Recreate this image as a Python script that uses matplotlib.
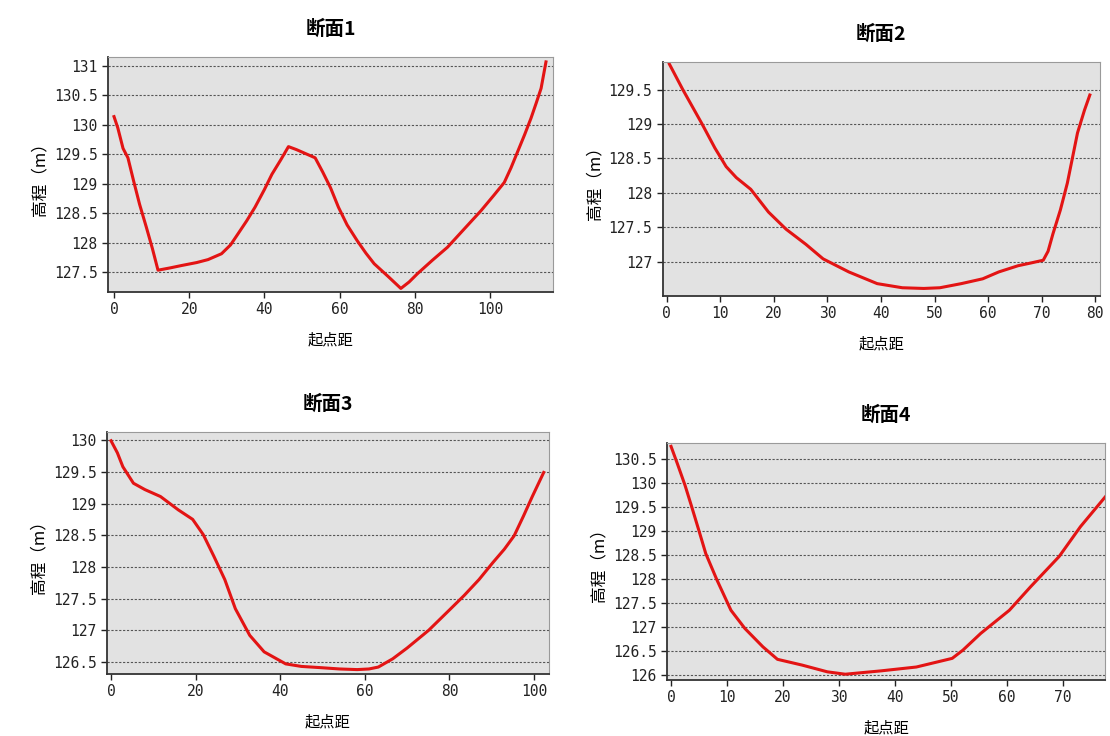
import matplotlib.pyplot as plt
from matplotlib.ticker import MultipleLocator

plt.rcParams['font.family'] = ['Noto Sans CJK SC', 'DejaVu Sans']

# 断面1
x1 = [0, 1, 2.4, 3.7, 5.2, 6.8, 8.6, 10.2, 11.7, 15, 18, 22, 25, 28.6, 31, 33, 35.3, 37.5,
      40, 42, 44.3, 46.4, 48.5, 51, 53.5, 55.5, 57.6, 59.7, 62, 64.7, 67, 69.2, 72.8, 76.3,
      78.5, 80.7, 84.7, 88.7, 93, 97.6, 101, 103.8, 105.6, 107.4, 109.2, 110.9, 112.3,
      113.6, 114.9]
y1 = [130.14, 129.95, 129.6, 129.44, 129.05, 128.65, 128.26, 127.9, 127.53, 127.57, 127.61,
      127.66, 127.71, 127.81, 127.96, 128.15, 128.37, 128.6, 128.9, 129.16, 129.4, 129.63,
      129.58, 129.51, 129.44, 129.2, 128.93, 128.6, 128.3, 128.03, 127.82, 127.64, 127.43,
      127.22, 127.33, 127.47, 127.7, 127.92, 128.22, 128.54, 128.8, 129.02, 129.27, 129.55,
      129.83, 130.11, 130.37, 130.62, 131.07]

# 断面2
x2 = [0.5, 3, 6.6, 9, 11.1, 13, 15.7, 19, 22.3, 26, 29.2, 34, 39.3, 44, 48, 51, 55, 59,
      62, 65.6, 68, 70.3, 71.2, 72.1, 73.5, 74.8, 76.7, 78, 79]
y2 = [129.87, 129.5, 129.0, 128.65, 128.38, 128.22, 128.05, 127.72, 127.47, 127.25, 127.04,
      126.85, 126.68, 126.62, 126.61, 126.62, 126.68, 126.75, 126.85, 126.94, 126.98, 127.02,
      127.15, 127.4, 127.75, 128.14, 128.87, 129.2, 129.42]

# 断面3
x3 = [0, 1.5, 2.8, 5.3, 8, 11.7, 15.9, 19.3, 21.8, 24.3, 26.9, 29.4, 32.8, 36.2, 41.3, 45,
      49.7, 54, 58.2, 61, 63.2, 66.6, 70, 75.1, 80, 83.5, 87, 90.3, 93, 95.3, 97.5, 99.6, 102.3]
y3 = [129.99, 129.8, 129.58, 129.32, 129.22, 129.11, 128.9, 128.75, 128.51, 128.17, 127.8,
      127.34, 126.92, 126.66, 126.47, 126.43, 126.41, 126.39, 126.38, 126.39, 126.42, 126.55,
      126.72, 127.0, 127.32, 127.55, 127.8, 128.07, 128.28, 128.49, 128.8, 129.11, 129.49]

# 断面4
x4 = [0, 1.1, 2.5, 3.7, 5, 6.2, 8.2, 10.7, 13.2, 16.4, 19, 23.4, 27.9, 31.1, 37.5, 43.8,
      50.2, 52.1, 55.3, 60.4, 64.2, 69.3, 73.1, 77.6]
y4 = [130.76, 130.41, 129.95, 129.5, 129.0, 128.53, 127.98, 127.35, 126.97, 126.59, 126.33,
      126.21, 126.07, 126.02, 126.09, 126.17, 126.35, 126.52, 126.87, 127.35, 127.84, 128.47,
      129.09, 129.72]

titles = ['断面1', '断面2', '断面3', '断面4']
xs = [x1, x2, x3, x4]
ys = [y1, y2, y3, y4]
xlims = [(-1.6, 116.8), (-0.75, 80.9), (-0.95, 103.5), (-0.7, 77.5)]
ylims = [(127.16, 131.15), (126.5, 129.9), (126.31, 130.13), (125.9, 130.83)]
xsteps = [20, 10, 20, 10]
ybottoms = [127.5, 127, 126.5, 126]

positions = [
    [0.0973, 0.6033, 0.401, 0.319],
    [0.597, 0.5978, 0.394, 0.318],
    [0.0964, 0.0842, 0.398, 0.329],
    [0.601, 0.0761, 0.3946, 0.322],
]

fig = plt.figure(figsize=(11.1, 7.36), dpi=100)

for i in range(4):
    ax = fig.add_axes(positions[i])
    ax.set_facecolor('#e2e2e2')
    ax.plot(xs[i], ys[i], color='#e31414', linewidth=2.2)
    ax.set_xlim(*xlims[i])
    ax.set_ylim(*ylims[i])
    ax.xaxis.set_major_locator(MultipleLocator(xsteps[i]))
    yt = []
    v = ybottoms[i]
    while v <= ylims[i][1]:
        yt.append(v)
        v += 0.5
    ax.set_yticks(yt)
    ax.set_yticklabels([('%g' % t) for t in yt])
    ax.grid(axis='y', color='#555555', linestyle=(0, (2, 1.5)), linewidth=0.8)
    ax.set_axisbelow(True)
    ax.tick_params(direction='out', length=4, width=1, labelsize=10.5, colors='#222222')
    for lbl in ax.get_xticklabels() + ax.get_yticklabels():
        lbl.set_family('DejaVu Sans Mono')
    ax.spines['left'].set_color('#333333')
    ax.spines['bottom'].set_color('#333333')
    ax.spines['left'].set_linewidth(1.3)
    ax.spines['bottom'].set_linewidth(1.3)
    ax.spines['top'].set_color('#9a9a9a')
    ax.spines['right'].set_color('#9a9a9a')
    ax.set_title(titles[i], fontsize=14, fontweight='bold', pad=16)
    ax.set_xlabel('起点距', fontsize=11, style='italic', labelpad=10)
    ax.set_ylabel('高程（m）', fontsize=12, labelpad=4)

fig.savefig('out.png', dpi=100, facecolor='white')
